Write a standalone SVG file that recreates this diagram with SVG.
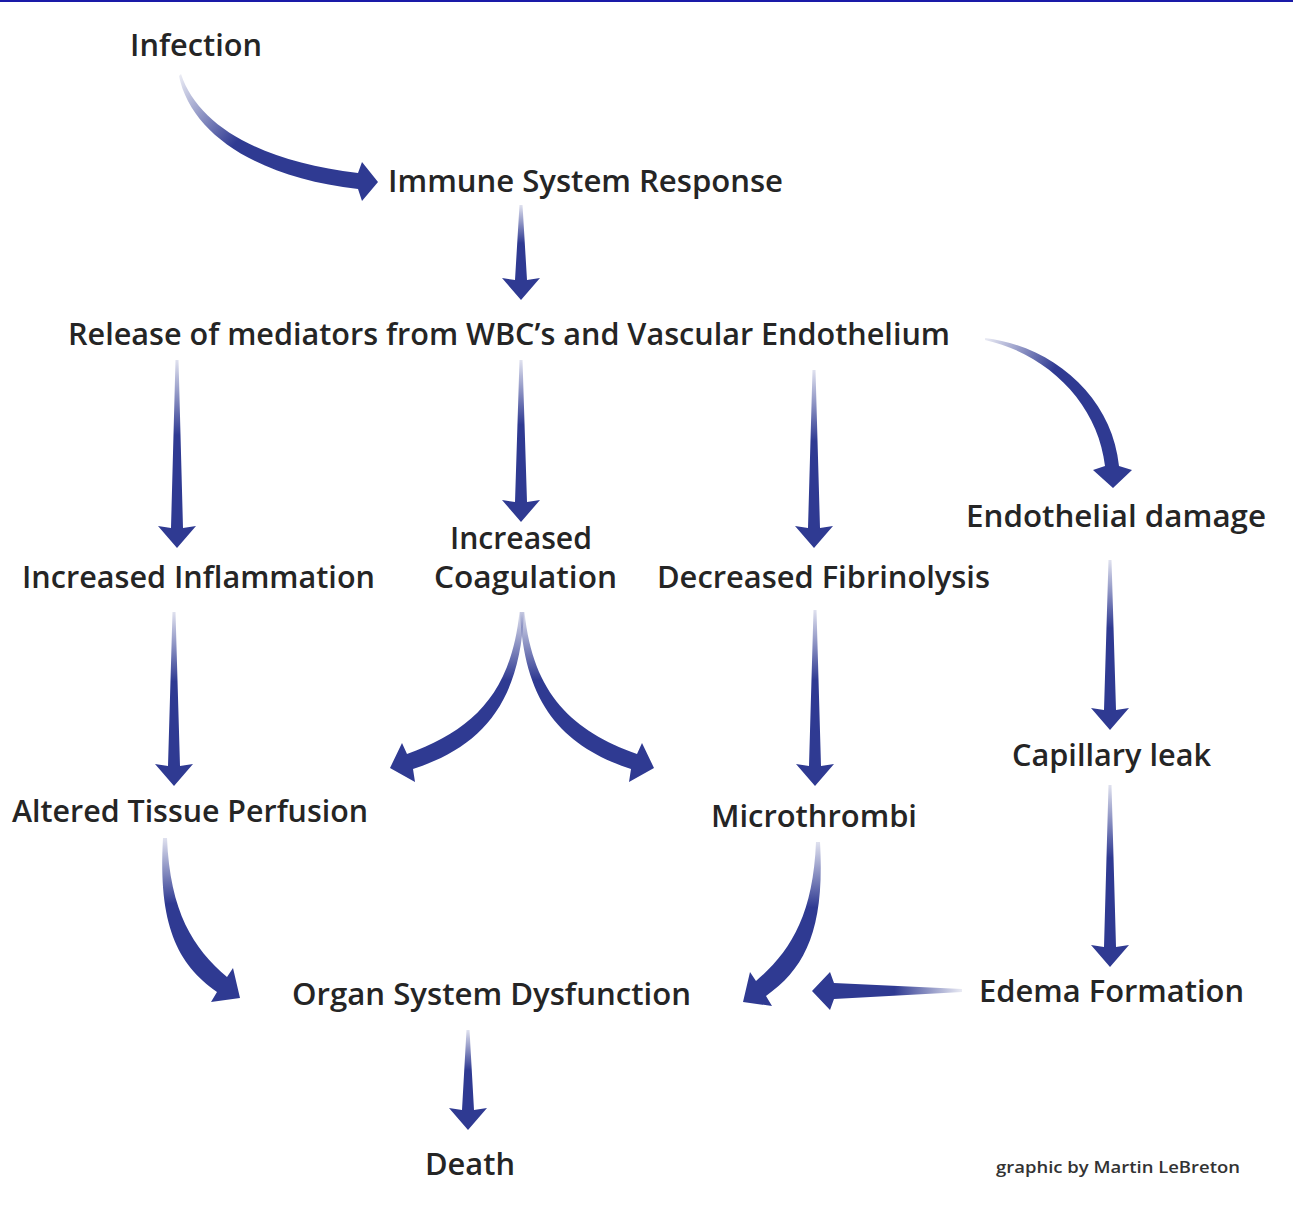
<svg xmlns="http://www.w3.org/2000/svg" xmlns:xlink="http://www.w3.org/1999/xlink" width="1293" height="1207" viewBox="0 0 1293 1207">
<style>
.t{font-family:"Open Sans","Liberation Sans",Arial,sans-serif;font-size:31px;font-weight:600;fill:#252525;}
.cr{font-family:"Open Sans","Liberation Sans",Arial,sans-serif;font-size:16px;font-weight:600;fill:#333;}
.a{stroke:none;}
</style>
<defs>
<linearGradient id="gv" x1="0" y1="0" x2="0" y2="1">
<stop offset="0" stop-color="#2f3a92" stop-opacity="0.15"/>
<stop offset="0.4" stop-color="#2f3a92"/>
<stop offset="1" stop-color="#2f3a92"/>
</linearGradient>
<linearGradient id="g1" gradientUnits="userSpaceOnUse" x1="180" y1="75" x2="290" y2="168">
<stop offset="0" stop-color="#2f3a92" stop-opacity="0.1"/>
<stop offset="0.6" stop-color="#2f3a92"/>
</linearGradient>
<linearGradient id="g6" gradientUnits="userSpaceOnUse" x1="985" y1="339" x2="1080" y2="390">
<stop offset="0" stop-color="#2f3a92" stop-opacity="0.1"/>
<stop offset="0.7" stop-color="#2f3a92"/>
</linearGradient>
<linearGradient id="gh" x1="1" y1="0" x2="0" y2="0">
<stop offset="0" stop-color="#2f3a92" stop-opacity="0.1"/>
<stop offset="0.45" stop-color="#2f3a92"/>
<stop offset="1" stop-color="#2f3a92"/>
</linearGradient>
<path id="split" d="M519.5 612 C511 695 471 731 407 754 L402 743 L390 768 L415 782 L413 769 C480 747 520 705 524 612 Z"/>
<path id="bend" d="M167 838 C170 912 193 948 227 977 L233 968 L240 998 L211 1002 L217 992 C177 964 158 924 163 838 Z"/>
</defs>
<rect width="1293" height="1207" fill="#ffffff"/>
<rect x="0" y="0" width="1293" height="2" fill="#1a1aa8"/>

<g id="connectors">
<path class="a" fill="url(#g1)" d="M181 74 C198 126 262 162 358 173 L362 162 L378 182 L362 201 L358 189 C258 178 191 134 179 76 Z"/>
<path class="a" fill="url(#gv)" d="M519.5 205 L522.5 205 L527 280 L540 278 L521 300 L502 278 L515 280 Z"/>
<path class="a" fill="url(#gv)" d="M175.5 360 L178.5 360 L183 528 L196 526 L177 548 L158 526 L171 528 Z"/>
<path class="a" fill="url(#gv)" d="M519.5 360 L522.5 360 L527 502 L540 500 L521 522 L502 500 L515 502 Z"/>
<path class="a" fill="url(#gv)" d="M812.5 370 L815.5 370 L820 528 L833 526 L814 548 L795 526 L808 528 Z"/>
<path class="a" fill="url(#g6)" d="M985 338 C1052 346 1112 396 1119 466 L1132 470 L1113 488 L1093 470 L1105 466 C1098 404 1048 354 985 340 Z"/>
<path class="a" fill="url(#gv)" d="M172.5 612 L175.5 612 L180 766 L193 764 L174 786 L155 764 L168 766 Z"/>
<use xlink:href="#split" fill="url(#gv)"/>
<use xlink:href="#split" fill="url(#gv)" transform="translate(1044,0) scale(-1,1)"/>
<path class="a" fill="url(#gv)" d="M813.5 610 L816.5 610 L821 766 L834 764 L815 786 L796 764 L809 766 Z"/>
<path class="a" fill="url(#gv)" d="M1108.5 560 L1111.5 560 L1116 710 L1129 708 L1110 730 L1091 708 L1104 710 Z"/>
<path class="a" fill="url(#gv)" d="M1108.5 785 L1111.5 785 L1116 947 L1129 945 L1110 967 L1091 945 L1104 947 Z"/>
<use xlink:href="#bend" fill="url(#gv)"/>
<use xlink:href="#bend" fill="url(#gv)" transform="translate(983,4) scale(-1,1)"/>
<path class="a" fill="url(#gh)" d="M962 989 L962 992 L834 999 L830 1010 L812 991 L830 972 L834 983 Z"/>
<path class="a" fill="url(#gv)" d="M466.5 1030 L469.5 1030 L474 1110 L487 1108 L468 1130 L449 1108 L462 1110 Z"/>
</g>

<g id="n-infection"><text class="t" x="130" y="56" textLength="132" lengthAdjust="spacingAndGlyphs">Infection</text></g>
<g id="n-immune"><text class="t" x="388" y="192" textLength="395" lengthAdjust="spacingAndGlyphs">Immune System Response</text></g>
<g id="n-release"><text class="t" x="68" y="345" textLength="882" lengthAdjust="spacingAndGlyphs">Release of mediators from WBC’s and Vascular Endothelium</text></g>
<g id="n-inflammation"><text class="t" x="22" y="588" textLength="353" lengthAdjust="spacingAndGlyphs">Increased Inflammation</text></g>
<g id="n-coagulation"><text class="t" x="450" y="549" textLength="142" lengthAdjust="spacingAndGlyphs">Increased</text><text class="t" x="434" y="588" textLength="183" lengthAdjust="spacingAndGlyphs">Coagulation</text></g>
<g id="n-fibrinolysis"><text class="t" x="657" y="588" textLength="333" lengthAdjust="spacingAndGlyphs">Decreased Fibrinolysis</text></g>
<g id="n-endothelial"><text class="t" x="966" y="527" textLength="300" lengthAdjust="spacingAndGlyphs">Endothelial damage</text></g>
<g id="n-capillary"><text class="t" x="1012" y="766" textLength="199" lengthAdjust="spacingAndGlyphs">Capillary leak</text></g>
<g id="n-altered"><text class="t" x="12" y="822" textLength="356" lengthAdjust="spacingAndGlyphs">Altered Tissue Perfusion</text></g>
<g id="n-microthrombi"><text class="t" x="711" y="827" textLength="206" lengthAdjust="spacingAndGlyphs">Microthrombi</text></g>
<g id="n-organ"><text class="t" x="292" y="1005" textLength="399" lengthAdjust="spacingAndGlyphs">Organ System Dysfunction</text></g>
<g id="n-edema"><text class="t" x="979" y="1002" textLength="265" lengthAdjust="spacingAndGlyphs">Edema Formation</text></g>
<g id="n-death"><text class="t" x="425" y="1175" textLength="90" lengthAdjust="spacingAndGlyphs">Death</text></g>
<g id="credit"><text class="cr" x="996" y="1173" textLength="244" lengthAdjust="spacingAndGlyphs">graphic by Martin LeBreton</text></g>
</svg>
